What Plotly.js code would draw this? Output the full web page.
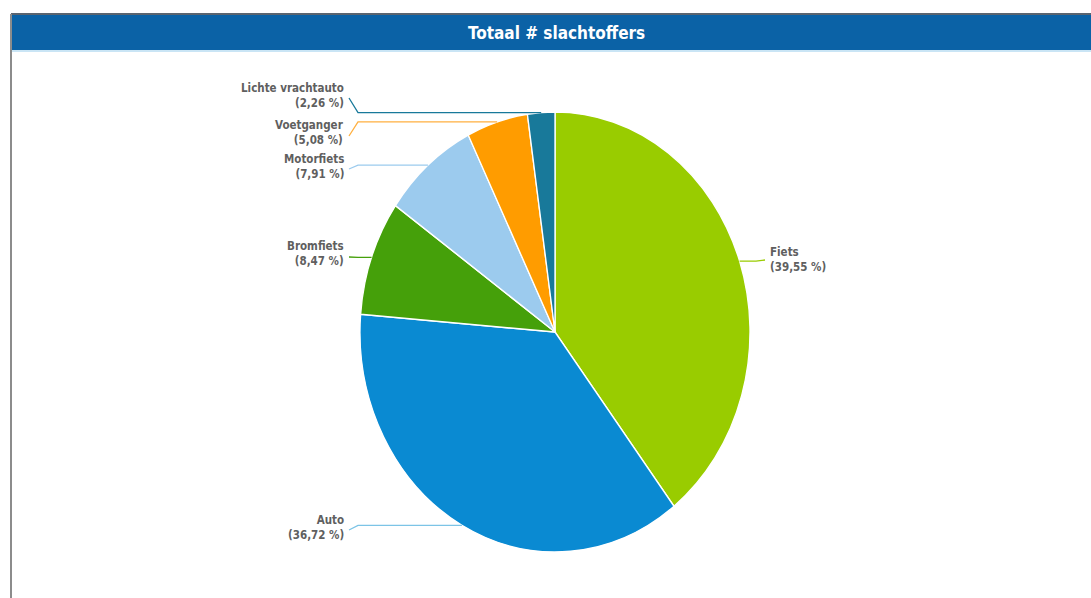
<!DOCTYPE html>
<html>
<head>
<meta charset="utf-8">
<script src="https://cdn.plot.ly/plotly-3.0.1.min.js"></script>
<style>
  html, body { margin: 0; padding: 0; background: #fff; }
  #chart { width: 1091px; height: 598px; }
</style>
</head>
<body>
<div id="chart"></div>
<script>
// ---- data ----
const categories = ['Fiets', 'Auto', 'Bromfiets', 'Motorfiets', 'Voetganger', 'Lichte vrachtauto'];
const values = [39.55, 36.72, 8.47, 7.91, 5.08, 2.26];
const colors = ['#99cc00', '#0a8ad2', '#45a00a', '#9ccbee', '#ff9c00', '#18799a'];
const lineColors = ['#99cc00', '#7cc4e6', '#45a00a', '#9ccbee', '#ffb040', '#18799a'];
const titleText = 'Totaal # slachtoffers';

// ---- layout constants (pixels) ----
const W = 1091, H = 598;
const CX = 555, CY = 332, RY = 220, RX = 195;   // the reference pie is slightly taller than wide
// label side and vertical centre of each label block
const labelSide = ['right', 'left', 'left', 'left', 'left', 'left'];
const labelY = [260, 527, 254, 166, 133, 95];
const LEFT_X = 346, RIGHT_X = 768;

const px = x => x / W;
const py = y => 1 - y / H;

const total = values.reduce((a, b) => a + b, 0);
const fmt = v => v.toFixed(2).replace('.', ',') + ' %';

const annotations = [];
const shapes = [];

// header bar
shapes.push({type: 'rect', xref: 'paper', yref: 'paper', x0: px(11), x1: 1, y0: py(50), y1: py(15),
  fillcolor: '#0b62a6', line: {width: 0}, layer: 'below'});
shapes.push({type: 'line', xref: 'paper', yref: 'paper', x0: px(11), x1: 1, y0: py(14), y1: py(14),
  line: {color: '#5a6470', width: 2}});
shapes.push({type: 'line', xref: 'paper', yref: 'paper', x0: px(11), x1: 1, y0: py(51), y1: py(51),
  line: {color: '#b9dcf2', width: 1.5}});
shapes.push({type: 'line', xref: 'paper', yref: 'paper', x0: px(11), x1: px(11), y0: py(14), y1: 0,
  line: {color: '#8c8c8c', width: 2}});

// labels and leader lines computed from slice mid-angles
let cum = 0;
values.forEach((v, i) => {
  const mid = (cum + v / 2) / total * 2 * Math.PI;
  cum += v;
  const ex = CX + RX * Math.sin(mid);
  const ey = CY - RY * Math.cos(mid);
  const ly = labelY[i];
  let path;
  if (labelSide[i] === 'left') {
    const sx = LEFT_X + 3, bx = LEFT_X + 12;
    path = `M ${px(sx)} ${py(ly + 3)} L ${px(bx)} ${py(ey)} L ${px(ex)} ${py(ey)}`;
  } else {
    const sx = RIGHT_X - 3, bx = RIGHT_X - 12;
    path = `M ${px(sx)} ${py(ly)} L ${px(bx)} ${py(ey)} L ${px(ex)} ${py(ey)}`;
  }
  shapes.push({type: 'path', xref: 'paper', yref: 'paper', path: path,
    line: {color: lineColors[i], width: 1.3}});
  annotations.push({
    xref: 'paper', yref: 'paper',
    x: px(labelSide[i] === 'left' ? LEFT_X : RIGHT_X), y: py(ly),
    xanchor: labelSide[i] === 'left' ? 'right' : 'left', yanchor: 'middle',
    align: labelSide[i] === 'left' ? 'right' : 'left',
    showarrow: false,
    text: '<b>' + categories[i] + '</b><br><b>(' + fmt(v) + ')</b>',
    font: {family: 'DejaVu Sans Condensed, DejaVu Sans, sans-serif', size: 11.5, color: '#5f5f5f'}
  });
});

// title
annotations.push({xref: 'paper', yref: 'paper', x: px(556), y: py(33), xanchor: 'center', yanchor: 'middle',
  showarrow: false, text: '<b>' + titleText + '</b>',
  font: {family: 'DejaVu Sans Condensed, DejaVu Sans, sans-serif', size: 17, color: '#ffffff'}});

const trace = {
  type: 'pie',
  labels: categories,
  values: values,
  sort: false,
  direction: 'clockwise',
  rotation: 0,
  textinfo: 'none',
  hoverinfo: 'label+percent',
  marker: {colors: colors, line: {color: '#ffffff', width: 1.5}},
  domain: {x: [px(CX - RY), px(CX + RY)], y: [py(CY + RY), py(CY - RY)]},
  showlegend: false
};

const layout = {
  width: W, height: H,
  margin: {l: 0, r: 0, t: 0, b: 0},
  paper_bgcolor: '#ffffff',
  plot_bgcolor: '#ffffff',
  showlegend: false,
  shapes: shapes,
  annotations: annotations
};

Plotly.newPlot('chart', [trace], layout, {displayModeBar: false, staticPlot: true}).then(gd => {
  // squeeze the round pie horizontally into the reference's slightly oval shape
  const pl = gd.querySelector('.pielayer');
  if (pl) {
    pl.style.transformBox = 'view-box';
    pl.style.transformOrigin = CX + 'px ' + CY + 'px';
    pl.style.transform = 'scale(' + (RX / RY) + ', 1)';
  }
});
</script>
</body>
</html>
